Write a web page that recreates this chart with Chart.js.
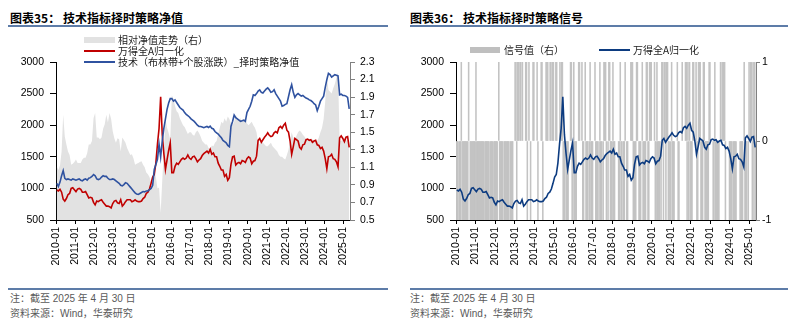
<!DOCTYPE html>
<html>
<head>
<meta charset="utf-8">
<script src="https://cdn.jsdelivr.net/npm/chart.js@4.4.1/dist/chart.umd.min.js"></script>
<style>
  html, body { margin:0; padding:0; background:#fff; }
  body { width:801px; height:327px; position:relative; overflow:hidden; font-family:"Noto Sans CJK SC", sans-serif; }
  .abs { position:absolute; white-space:nowrap; }
  .title { font-size:12px; font-weight:bold; line-height:14px; color:#000; }
  .rule { background:#5d7ca8; height:2px; }
  .foot { font-family:"Liberation Sans","Noto Sans CJK SC",sans-serif; font-size:10px; line-height:12px; color:#595959; }
  .leg { font-size:10px; line-height:12px; color:#222; }
  canvas { position:absolute; top:0; }
</style>
</head>
<body>
<div class="abs title" style="left:10px;top:11px;">图表35：&nbsp;技术指标择时策略净值</div>
<div class="abs rule" style="left:8px;top:25px;width:380px;"></div>
<div class="abs title" style="left:410px;top:11px;">图表36：&nbsp;技术指标择时策略信号</div>
<div class="abs rule" style="left:410px;top:25px;width:378px;"></div>

<canvas id="c1" width="400" height="288" style="left:0;width:400px;height:288px;"></canvas>
<canvas id="c2" width="401" height="288" style="left:400px;width:401px;height:288px;"></canvas>

<!-- left legend -->
<div class="abs" style="left:84px;top:37px;width:31px;height:6px;background:#e2e2e2;"></div>
<div class="abs leg" style="left:118px;top:34px;">相对净值走势（右）</div>
<div class="abs" style="left:84px;top:50px;width:31px;height:2px;background:#c00000;"></div>
<div class="abs leg" style="left:118px;top:45px;">万得全A归一化</div>
<div class="abs" style="left:84px;top:61px;width:31px;height:2px;background:#2f52a0;"></div>
<div class="abs leg" style="left:118px;top:56px;">技术（布林带+个股涨跌）_择时策略净值</div>

<!-- right legend -->
<div class="abs" style="left:470px;top:47px;width:30px;height:6px;background:#bfbfbf;"></div>
<div class="abs leg" style="left:504px;top:44px;">信号值（右）</div>
<div class="abs" style="left:599px;top:49px;width:31px;height:2px;background:#0c3b80;"></div>
<div class="abs leg" style="left:633px;top:44px;">万得全A归一化</div>

<div class="abs rule" style="left:8px;top:288px;width:380px;"></div>
<div class="abs foot" style="left:10px;top:293px;">注：截至 2025 年 4 月 30 日</div>
<div class="abs foot" style="left:10px;top:308px;">资料来源：Wind，华泰研究</div>
<div class="abs rule" style="left:410px;top:288px;width:378px;"></div>
<div class="abs foot" style="left:410px;top:293px;">注：截至 2025 年 4 月 30 日</div>
<div class="abs foot" style="left:410px;top:308px;">资料来源：Wind，华泰研究</div>

<script>
// ---- data: monthly, 2010-01 .. 2025-04 ----
const startYear = 2010;
const endX = 2025 + 4 / 12;
const yearTicks = [2010,2011,2012,2013,2014,2015,2016,2017,2018,2019,2020,2021,2022,2023,2024,2025];

// 万得全A归一化 (left axis)
const windA = [
  975, 960, 985, 940, 830, 800, 840, 900, 920,1000,1010, 980,
  950, 990,1000, 985, 940, 940, 950, 900, 850, 860, 850, 780,
  740, 800, 790, 810, 820, 780, 750, 720, 720, 710, 690, 760,
  800, 810, 770, 760, 820, 720, 750, 790, 820, 820, 820, 790,
  800, 820, 800, 790, 790, 800, 840, 860, 920, 940, 990,1080,
 1180,1220,1400,1700,1950,2450,1850,1550,1300,1450,1600,1720,
 1250,1250,1350,1400,1380,1420,1460,1480,1460,1480,1530,1480,
 1460,1500,1510,1470,1420,1450,1470,1520,1550,1570,1590,1560,
 1620,1540,1560,1500,1500,1400,1350,1290,1290,1190,1220,1130,
 1170,1380,1500,1510,1370,1400,1410,1390,1440,1430,1410,1470,
 1500,1480,1390,1430,1440,1510,1760,1790,1730,1770,1810,1840,
 1880,1840,1820,1830,1880,1900,1880,1960,1980,1950,2000,2030,
 1920,1890,1750,1540,1660,1790,1770,1750,1650,1620,1690,1700,
 1770,1780,1760,1770,1730,1750,1760,1690,1680,1630,1650,1590,
 1470,1310,1500,1510,1540,1470,1460,1420,1340,1800,1830,1790,
 1740,1810,1820,1650
];

// 技术（布林带+个股涨跌）_择时策略净值 (left axis units)
const strategyNav = [
 1080,1030,1100,1200,1280,1160,1140,1150,1140,1130,1150,1140,
 1130,1140,1150,1130,1120,1140,1150,1130,1160,1170,1190,1220,
 1200,1150,1140,1150,1180,1200,1190,1190,1160,1140,1140,1150,
 1140,1120,1100,1080,1050,1040,1060,1090,1080,1050,1020, 990,
  960, 930, 910, 905, 920, 935, 950, 945, 960, 960, 980,1000,
 1050,1300,1380,1460,1700,1500,1750,1950,2100,2250,2350,2420,
 2420,2380,2400,2360,2320,2280,2260,2240,2200,2170,2150,2130,
 2100,2080,2060,2030,2000,1980,1980,1970,1960,1970,1980,1965,
 1985,1950,1940,1900,1880,1860,1830,1800,1760,1740,1720,1680,
 1660,1980,2060,2160,2120,2100,2080,2060,2070,2080,2060,2200,
 2250,2300,2380,2480,2470,2500,2540,2560,2520,2510,2540,2570,
 2590,2560,2520,2530,2560,2500,2460,2420,2380,2300,2310,2330,
 2340,2450,2560,2640,2520,2440,2480,2500,2480,2460,2470,2450,
 2430,2420,2400,2390,2370,2340,2320,2230,2300,2380,2420,2460,
 2600,2720,2820,2800,2760,2780,2800,2790,2780,2480,2490,2470,
 2470,2460,2440,2260
];

// 相对净值走势（右）
const relativeNav = [
 1.11,1.07,1.12,1.28,1.70,1.45,1.36,1.28,1.24,1.13,1.14,1.16,
 1.19,1.15,1.15,1.15,1.19,1.21,1.21,1.26,1.36,1.36,1.40,1.66,
 1.72,1.44,1.44,1.42,1.44,1.54,1.59,1.70,1.61,1.72,1.65,1.51,
 1.43,1.38,1.43,1.42,1.28,1.44,1.41,1.38,1.32,1.28,1.24,1.25,
 1.20,1.13,1.14,1.15,1.16,1.17,1.13,1.10,1.04,1.02,0.99,0.93,
 0.89,1.07,0.99,0.86,0.87,0.58,0.95,1.29,1.65,1.55,1.49,1.41,
 1.92,1.88,1.80,1.74,1.72,1.66,1.62,1.58,1.56,1.52,1.48,1.50,
 1.50,1.47,1.46,1.50,1.52,1.49,1.45,1.40,1.38,1.36,1.36,1.32,
 1.30,1.35,1.34,1.38,1.40,1.48,1.55,1.62,1.60,1.66,1.62,1.68,
 1.65,1.60,1.58,1.62,1.70,1.66,1.64,1.66,1.62,1.64,1.66,1.60,
 1.58,1.60,1.62,1.58,1.55,1.50,1.38,1.36,1.40,1.38,1.36,1.34,
 1.34,1.36,1.38,1.34,1.32,1.30,1.28,1.24,1.22,1.22,1.20,1.19,
 1.24,1.30,1.40,1.50,1.44,1.42,1.46,1.50,1.52,1.50,1.47,1.45,
 1.42,1.43,1.42,1.40,1.42,1.40,1.38,1.40,1.44,1.50,1.55,1.65,
 1.85,2.15,1.98,1.96,1.94,2.00,2.05,2.12,2.18,1.40,1.40,1.42,
 1.44,1.40,1.42,1.38
];

// 信号值（右）: half-monthly, 2010-01 .. 2025-04 (1 long, -1 short, 0 none)
const signal = [
 -1,-1,-1,0,-1,-1,1,-1,-1,-1,-1,-1,-1,-1,-1,1,0,-1,-1,-1,-1,-1,-1,-1,
 1,-1,-1,-1,-1,-1,-1,-1,-1,-1,0,-1,-1,-1,-1,-1,-1,0,-1,-1,-1,0,-1,-1,
 -1,-1,-1,0,1,-1,-1,-1,-1,-1,0,-1,-1,-1,-1,-1,-1,0,-1,-1,-1,-1,0,0,
 1,1,-1,1,1,0,1,1,0,1,0,0,0,1,1,-1,0,1,0,-1,0,0,1,1,
 0,0,0,1,-1,0,0,0,1,1,-1,0,0,0,1,1,1,0,0,1,1,0,1,1,
 0,0,1,1,0,0,0,1,0,1,1,-1,-1,-1,0,-1,-1,-1,0,0,1,1,-1,-1,
 1,-1,-1,-1,0,0,1,1,0,0,1,-1,-1,0,1,-1,-1,-1,0,-1,1,-1,-1,-1,
 0,0,1,-1,-1,-1,0,-1,1,-1,-1,0,-1,1,1,1,-1,0,-1,1,1,-1,-1,-1,
 1,-1,-1,0,0,0,0,-1,-1,1,-1,-1,0,-1,-1,1,0,-1,-1,0,0,0,1,1,
 1,-1,-1,-1,-1,1,1,0,-1,-1,-1,0,1,-1,-1,-1,-1,1,1,-1,-1,1,1,1,
 0,0,0,1,-1,-1,1,-1,-1,-1,0,-1,1,1,-1,1,1,-1,1,1,-1,-1,0,-1,
 1,-1,-1,-1,0,0,0,1,-1,-1,0,0,0,1,0,0,0,1,1,-1,1,-1,1,-1,
 -1,-1,1,1,0,0,1,-1,-1,1,1,1,-1,-1,-1,1,1,-1,-1,-1,-1,-1,1,1,
 0,0,0,-1,-1,1,-1,-1,-1,-1,-1,0,1,0,1,1,1,1,-1,0,0,0,0,-1,
 -1,-1,-1,0,-1,-1,-1,-1,0,0,0,0,-1,-1,-1,-1,0,1,-1,-1,-1,0,-1,1,
 0,1,1,-1,1,-1,1,-1
];

const leftTicks = [500,1000,1500,2000,2500,3000];
const navTicks = [0.5,0.7,0.9,1.1,1.3,1.5,1.7,1.9,2.1,2.3];
const signalTicks = [-1,0,1];

// positions in time
const monthX = i => startYear + (i + 0.5) / 12;
const halfX = i => startYear + (i + 0.5) / 24;
const pts = (arr, fx) => arr.map((v, i) => ({ x: fx(i), y: v }));

Chart.defaults.font.family = '"Liberation Sans", Arial, sans-serif';
Chart.defaults.font.size = 10.5;
Chart.defaults.color = '#000';

function xScale() {
  return {
    type: 'linear', min: startYear, max: endX, offset: false,
    afterFit: s => { s.height = 68; },
    afterBuildTicks: s => { s.ticks = yearTicks.map(v => ({ value: v })); },
    ticks: { autoSkip: false, maxRotation: 90, minRotation: 90, padding: 3, callback: v => v + '-01' },
    grid: { drawOnChartArea: false, drawTicks: true, tickLength: 4, color: '#000', offset: false },
    border: { display: true, color: '#000', width: 1 }
  };
}

function leftScale() {
  return {
    position: 'left', min: 500, max: 3000,
    afterFit: s => { s.width = 56; },
    afterBuildTicks: s => { s.ticks = leftTicks.map(v => ({ value: v })); },
    ticks: { padding: 6, callback: v => String(v) },
    grid: { drawOnChartArea: false, drawTicks: true, tickLength: 6, color: '#000' },
    border: { display: true, color: '#000', width: 1 }
  };
}

// ---- chart 35 ----
new Chart(document.getElementById('c1'), {
  type: 'line',
  data: {
    datasets: [
      { label: '技术（布林带+个股涨跌）_择时策略净值', data: pts(strategyNav, monthX), yAxisID: 'y',
        borderColor: '#2f52a0', borderWidth: 1.6, pointRadius: 0, tension: 0, order: 0 },
      { label: '万得全A归一化', data: pts(windA, monthX), yAxisID: 'y',
        borderColor: '#c00000', borderWidth: 1.6, pointRadius: 0, tension: 0, order: 1 },
      { label: '相对净值走势（右）', data: pts(relativeNav, monthX), yAxisID: 'y1',
        borderColor: 'rgba(0,0,0,0)', borderWidth: 0, backgroundColor: '#e2e2e2', fill: 'start',
        pointRadius: 0, tension: 0, order: 2 }
    ]
  },
  options: {
    responsive: false, animation: false,
    layout: { padding: { top: 62, left: 0, right: 0, bottom: 0 } },
    plugins: { legend: { display: false }, tooltip: { enabled: false } },
    scales: {
      x: xScale(),
      y: leftScale(),
      y1: {
        position: 'right', min: 0.5, max: 2.3,
        afterFit: s => { s.width = 50; },
        afterBuildTicks: s => { s.ticks = navTicks.map(v => ({ value: v })); },
        ticks: { padding: 5, callback: v => Number(v).toFixed(1) },
        grid: { drawOnChartArea: false, drawTicks: true, tickLength: 5, color: '#808080' },
        border: { display: true, color: '#808080', width: 1 }
      }
    }
  }
});

// ---- chart 36 ----
new Chart(document.getElementById('c2'), {
  type: 'line',
  data: {
    datasets: [
      { type: 'line', label: '万得全A归一化', data: pts(windA, monthX), yAxisID: 'y',
        borderColor: '#0c3b80', borderWidth: 1.6, pointRadius: 0, tension: 0, order: 0 },
      { type: 'bar', label: '信号值（右）', data: pts(signal.map(v => v === 0 ? null : v), halfX), yAxisID: 'y1',
        backgroundColor: '#c3c3c3', borderWidth: 0, barThickness: 0.9, order: 1 }
    ]
  },
  options: {
    responsive: false, animation: false,
    layout: { padding: { top: 62, left: 0, right: 0, bottom: 0 } },
    plugins: { legend: { display: false }, tooltip: { enabled: false } },
    scales: {
      x: xScale(),
      y: leftScale(),
      y1: {
        position: 'right', min: -1, max: 1,
        afterFit: s => { s.width = 45; },
        afterBuildTicks: s => { s.ticks = signalTicks.map(v => ({ value: v })); },
        ticks: { padding: 2, callback: v => String(v) },
        grid: { drawOnChartArea: false, drawTicks: true, tickLength: 4, color: '#808080' },
        border: { display: true, color: '#808080', width: 1 }
      }
    }
  }
});
</script>
</body>
</html>
